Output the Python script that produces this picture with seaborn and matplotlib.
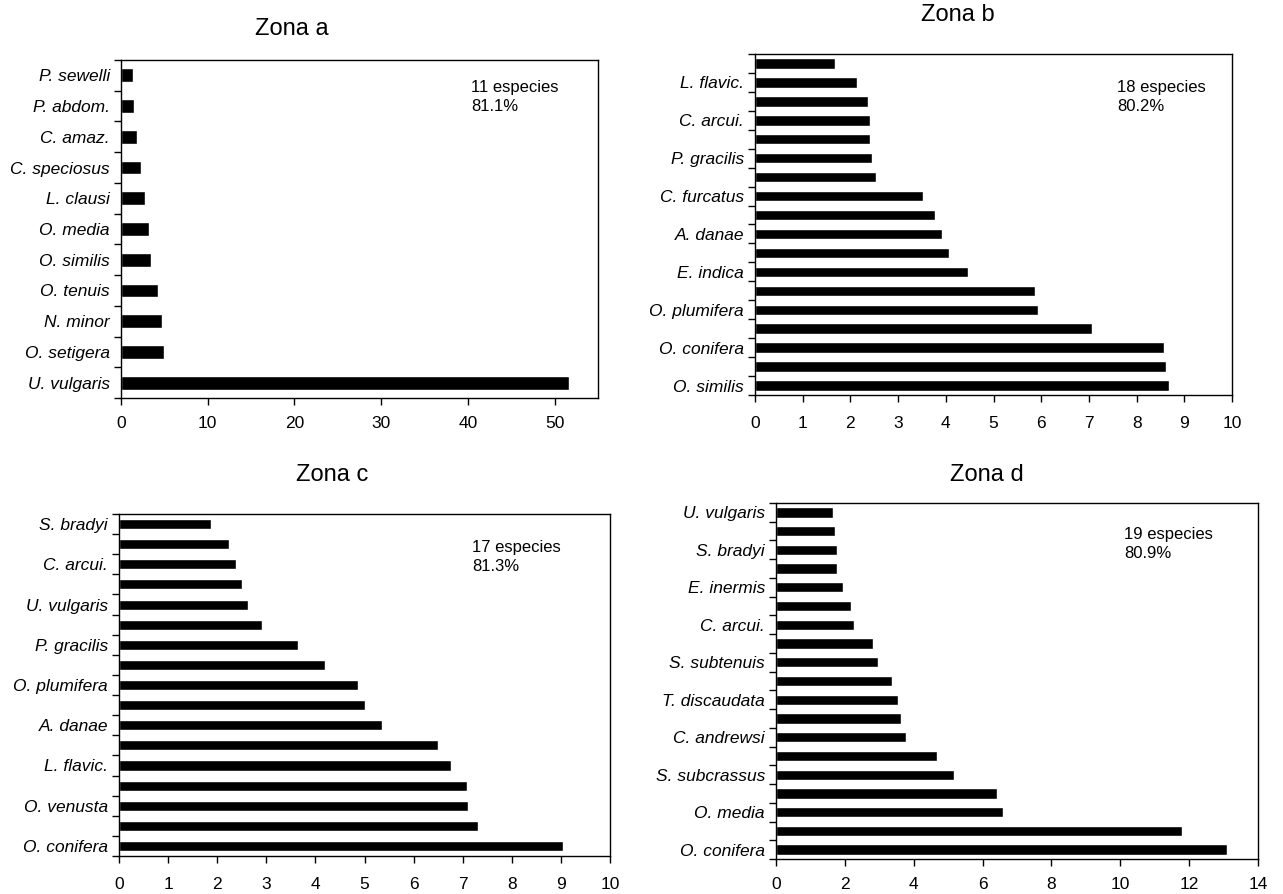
import numpy as np
import pandas as pd
import seaborn as sns
import matplotlib.pyplot as plt
from matplotlib.ticker import FixedLocator

# Zona a (top to bottom)
labels_a = ["P. sewelli", "P. abdom.", "C. amaz.", "C. speciosus", "L. clausi", "O. media",
            "O. similis", "O. tenuis", "N. minor", "O. setigera", "U. vulgaris"]
values_a = [1.37, 1.55, 1.87, 2.28, 2.82, 3.19, 3.42, 4.28, 4.69, 4.92, 51.7]

# Zona b (only every other label is printed)
labels_b = ["", "L. flavic.", "", "C. arcui.", "", "P. gracilis", "", "C. furcatus", "",
            "A. danae", "", "E. indica", "", "O. plumifera", "", "O. conifera", "", "O. similis"]
values_b = [1.68, 2.13, 2.36, 2.41, 2.41, 2.45, 2.53, 3.52, 3.78, 3.92, 4.06, 4.46,
            5.86, 5.94, 7.07, 8.58, 8.61, 8.67]

# Zona c
labels_c = ["S. bradyi", "", "C. arcui.", "", "U. vulgaris", "", "P. gracilis", "",
            "O. plumifera", "", "A. danae", "", "L. flavic.", "", "O. venusta", "", "O. conifera"]
values_c = [1.87, 2.24, 2.38, 2.50, 2.62, 2.92, 3.64, 4.19, 4.87, 5.02, 5.35, 6.50,
            6.77, 7.09, 7.10, 7.32, 9.05]

# Zona d
labels_d = ["U. vulgaris", "", "S. bradyi", "", "E. inermis", "", "C. arcui.", "",
            "S. subtenuis", "", "T. discaudata", "", "C. andrewsi", "", "S. subcrassus", "",
            "O. media", "", "O. conifera"]
values_d = [1.67, 1.70, 1.76, 1.78, 1.95, 2.19, 2.26, 2.81, 2.96, 3.38, 3.53, 3.64,
            3.79, 4.67, 5.17, 6.42, 6.58, 11.78, 13.10]

titles = ["Zona a", "Zona b", "Zona c", "Zona d"]
notes = ["11 especies\n81.1%", "18 especies\n80.2%", "17 especies\n81.3%", "19 especies\n80.9%"]

sns.set_style("ticks")
plt.rcParams['font.family'] = ['Liberation Sans', 'DejaVu Sans']
plt.rcParams['text.color'] = 'black'
plt.rcParams['xtick.labelcolor'] = 'black'
plt.rcParams['ytick.labelcolor'] = 'black'

W, H = 1283, 894
fig = plt.figure(figsize=(W / 100, H / 100), dpi=100)


def px_axes(l, r, t, b):
    return fig.add_axes([l / W, 1 - b / H, (r - l) / W, (b - t) / H])


panels = [
    # left, right, top, bottom, xmax, step, bar width, x label pad, title pos, note pos
    (121, 598, 60, 398, 55, 10, 0.45, 8, (292, 29), (471, 80)),
    (755, 1232, 54, 395, 10, 1, 0.55, 10, (958, 15), (1117, 80)),
    (119, 610, 514, 856, 10, 1, 0.5, 10, (332, 475), (472, 540)),
    (776, 1258, 503, 859, 14, 2, 0.55, 8, (987, 475), (1124, 527)),
]
data = [(labels_a, values_a), (labels_b, values_b), (labels_c, values_c), (labels_d, values_d)]

for (labels, values), (l, r, t, b, xmax, step, bw, xpad, tpos, npos), title, note in zip(
        data, panels, titles, notes):
    ax = px_axes(l, r, t, b)
    df = pd.DataFrame({"pos": [str(i) for i in range(len(values))], "value": values})
    sns.barplot(data=df, x="value", y="pos", orient="h", color="black",
                width=bw, saturation=1, ax=ax)
    n = len(values)
    ax.set_xlim(0, xmax)
    ax.set_ylim(n - 0.5, -0.5)
    ax.set_xticks(np.arange(0, xmax + 0.01, step))
    ax.set_xticklabels([f"{v:g}" for v in np.arange(0, xmax + 0.01, step)], fontsize=12.5)
    ax.set_yticks(range(n))
    ax.set_yticklabels(labels, fontsize=12.5, style="italic")
    ax.yaxis.set_minor_locator(FixedLocator(np.arange(-0.5, n, 1.0)))
    ax.tick_params(axis="y", which="major", length=0, pad=8)
    ax.tick_params(axis="y", which="minor", length=5, width=1, color="black")
    ax.tick_params(axis="x", length=5, width=1, color="black", pad=xpad)
    ax.set_xlabel("")
    ax.set_ylabel("")
    for sp in ax.spines.values():
        sp.set_color("black")
        sp.set_linewidth(1)
    fig.text(tpos[0] / W, 1 - tpos[1] / H, title, ha="center", va="center", fontsize=17)
    fig.text(npos[0] / W, 1 - npos[1] / H, note, ha="left", va="top", fontsize=12,
             linespacing=1.3)

fig.savefig("out.png", dpi=100, facecolor="white")
